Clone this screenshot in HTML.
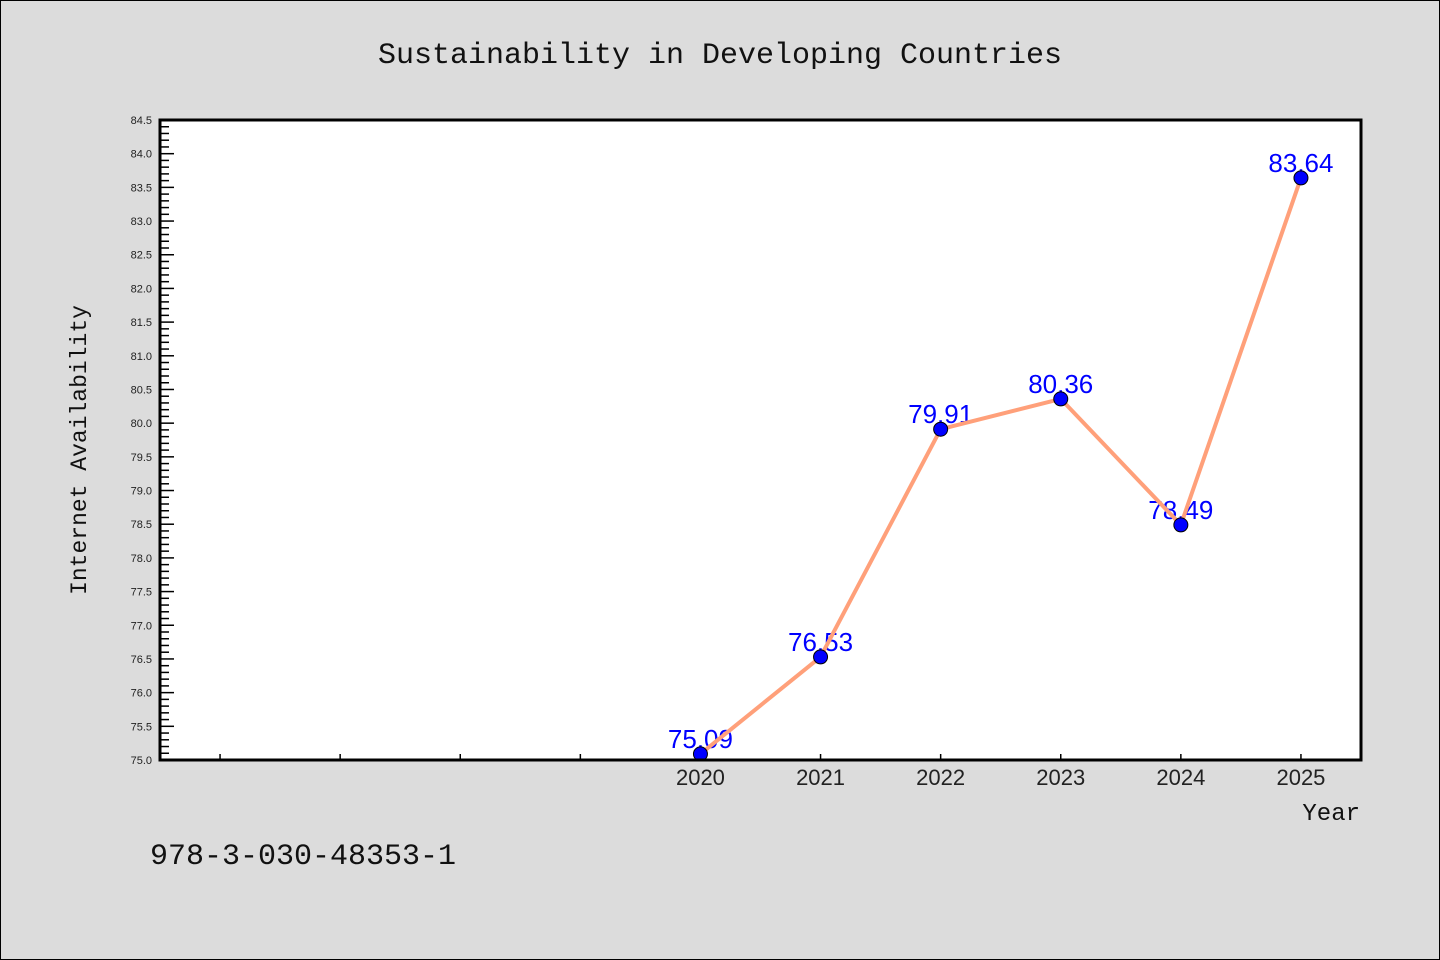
<!DOCTYPE html>
<html><head><meta charset="utf-8"><style>
body{margin:0;background:#dcdcdc;}
svg{display:block}
</style></head><body>
<svg width="1440" height="960" xmlns="http://www.w3.org/2000/svg">
<rect x="0.5" y="0.5" width="1439" height="959" fill="#dcdcdc" stroke="#000"/>
<text x="720" y="63" text-anchor="middle" font-family="Liberation Mono, monospace" font-size="30" fill="#111">Sustainability in Developing Countries</text>
<rect x="160" y="120" width="1201" height="640" fill="#fff"/>
<g id="yticks"></g><g id="xticks"></g><g id="labels"></g><g id="series"></g>
<rect x="160" y="120" width="1201" height="640" fill="none" stroke="#000" stroke-width="3"/>
<text x="86" y="450" transform="rotate(-90 86 450)" text-anchor="middle" font-family="Liberation Mono, monospace" font-size="23" fill="#111">Internet Availability</text>
<text x="1360" y="820" text-anchor="end" font-family="Liberation Mono, monospace" font-size="24" fill="#111">Year</text>
<text x="150" y="864" font-family="Liberation Mono, monospace" font-size="30" fill="#111">978-3-030-48353-1</text>
</svg>
<script>
const years=[2020,2021,2022,2023,2024,2025];
const values=[75.09,76.53,79.91,80.36,78.49,83.64];
const valueLabels=["75.09","76.53","79.91","80.36","78.49","83.64"];
const yMin=75.0,yMax=84.5,xMin=2015.5,xMax=2025.5;
const L=160,R=1361,T=120,B=760;
const NS="http://www.w3.org/2000/svg";
const X=v=>L+(v-xMin)/(xMax-xMin)*(R-L);
const Y=v=>B-(v-yMin)/(yMax-yMin)*(B-T);
function mk(tag,attrs,parent,txt){const e=document.createElementNS(NS,tag);for(const k in attrs)e.setAttribute(k,attrs[k]);if(txt!==undefined)e.textContent=txt;parent.appendChild(e);return e;}
const yt=document.getElementById('yticks');
for(let i=0;i<=95;i++){const v=yMin+i*0.1;const y=Y(v);const major=i%5===0;
const t=mk('line',{x1:L,x2:L+(major?14:9),y1:y,y2:y,stroke:'#000','stroke-width':1.5},yt);


if(major){const lb=mk('text',{x:152,y:y+4,'text-anchor':'end','font-family':'Liberation Sans, sans-serif','font-size':11,fill:'#222'},yt,v.toFixed(1));

}}
const xt=document.getElementById('xticks');
for(let yr=2016;yr<=2025;yr++){const x=X(yr);
const t=mk('line',{x1:x,x2:x,y1:B,y2:B-6,stroke:'#000','stroke-width':1.5},xt);

}
years.forEach(yr=>{const lb=mk('text',{x:X(yr),y:785,'text-anchor':'middle','font-family':'Liberation Sans, sans-serif','font-size':22,fill:'#222'},xt,String(yr));

});
const lg=document.getElementById('labels');
values.forEach((v,i)=>{const lb=mk('text',{x:X(years[i]),y:Y(v)-6,'text-anchor':'middle','font-family':'Liberation Sans, sans-serif','font-size':26,fill:'#0000ff'},lg,valueLabels[i]);

});
const sg=document.getElementById('series');
const pl=mk('polyline',{points:values.map((v,i)=>X(years[i])+','+Y(v)).join(' '),fill:'none',stroke:'#ffa07a','stroke-width':4,'stroke-linejoin':'round'},sg);


values.forEach((v,i)=>{const c=mk('circle',{cx:X(years[i]),cy:Y(v),r:7,fill:'#0000ff',stroke:'#000','stroke-width':1},sg);

});
</script>
</body></html>
